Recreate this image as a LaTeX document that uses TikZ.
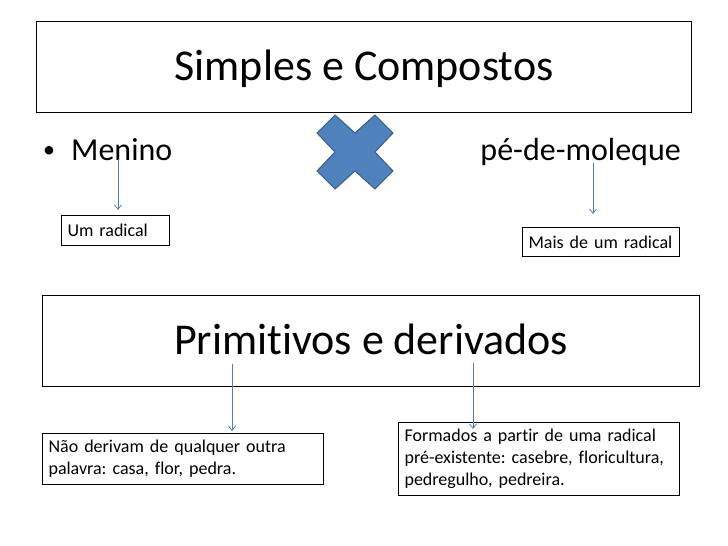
\documentclass[tikz,border=0pt]{standalone}
\usepackage{fontspec}
\setmainfont{Carlito}[Ligatures={NoCommon,NoContextual}]
\usetikzlibrary{arrows.meta}
\definecolor{xfill}{HTML}{4F81BD}
\definecolor{xline}{HTML}{385D8A}
\definecolor{arr}{HTML}{4A7EBB}
\frenchspacing
\tikzset{
  titlebox/.style={draw=black, line width=1.2pt, anchor=north west, inner sep=0pt,
    font=\fontsize{44}{52}\selectfont, align=center, text height=34pt, text depth=7pt},
  bodytext/.style={inner sep=0pt, font=\fontsize{32}{38}\selectfont},
  smallbox/.style={draw=black, line width=1.1pt, anchor=north west, inner xsep=6pt, inner ysep=0pt,
    font=\fontsize{18}{22}\selectfont\frenchspacing, align=left},
  conn/.style={draw=arr, line width=0.75pt, -{Straight Barb[length=4.5pt,width=7pt,line width=0.75pt]}},
}
\begin{document}
\begin{tikzpicture}[x=1pt,y=-1pt]
\useasboundingbox[fill=white] (0,0) rectangle (728,546);
% title boxes
\node[titlebox, minimum width=655pt, minimum height=91pt] (t1) at (36,21) {Simples e Compostos};
\node[titlebox, minimum width=657pt, minimum height=91pt] (t2) at (42,295) {Primitivos e derivados};
% bullet line
\node[inner sep=0pt, font=\fontsize{24}{28}\selectfont] (bul) at (49,152.5) {•};
\node[bodytext, anchor=base west] (menino) at (71,160) {Menino};
\node[bodytext, anchor=base east] (pe) at (681,160) {pé-de-moleque};
% X shape
\path[fill=xfill, draw=xline, line width=1pt, line join=miter]
  (355,152) ++(-38,-19) -- ++(18,-18) -- ++(20,18) -- ++(20,-18) -- ++(18,18)
  -- ++(-18,19) -- ++(18,19) -- ++(-18,18) -- ++(-20,-18) -- ++(-20,18)
  -- ++(-18,-18) -- ++(18,-19) -- cycle;
% small boxes
\node[smallbox, minimum width=108pt, minimum height=30pt, text width=96pt] (um) at (61,215) {Um radical};
\node[smallbox, minimum width=157pt, minimum height=29pt, text width=145pt] (mais) at (522,227) {Mais de um radical};
\node[smallbox, minimum width=281pt, minimum height=51pt, text width=269pt] (nao) at (42,433) {Não derivam de qualquer outra\\palavra: casa, flor, pedra.};
\node[smallbox, minimum width=281pt, minimum height=73pt, text width=269pt] (form) at (398,422) {Formados a partir de uma radical\\pré-existente: casebre, floricultura,\\pedregulho, pedreira.};
% connector ends
\coordinate (a1s) at (118,159);
\coordinate (a1e) at (118,210);
\coordinate (a2s) at (593,163);
\coordinate (a2e) at (593,214);
\coordinate (a3s) at (232,364);
\coordinate (a3e) at (232,431);
\coordinate (a4s) at (473,363);
\coordinate (a4e) at (473,429);
\draw[conn] (a1s) -- (a1e);
\draw[conn] (a2s) -- (a2e);
\draw[conn] (a3s) -- (a3e);
\draw[conn] (a4s) -- (a4e);
\end{tikzpicture}
\end{document}
